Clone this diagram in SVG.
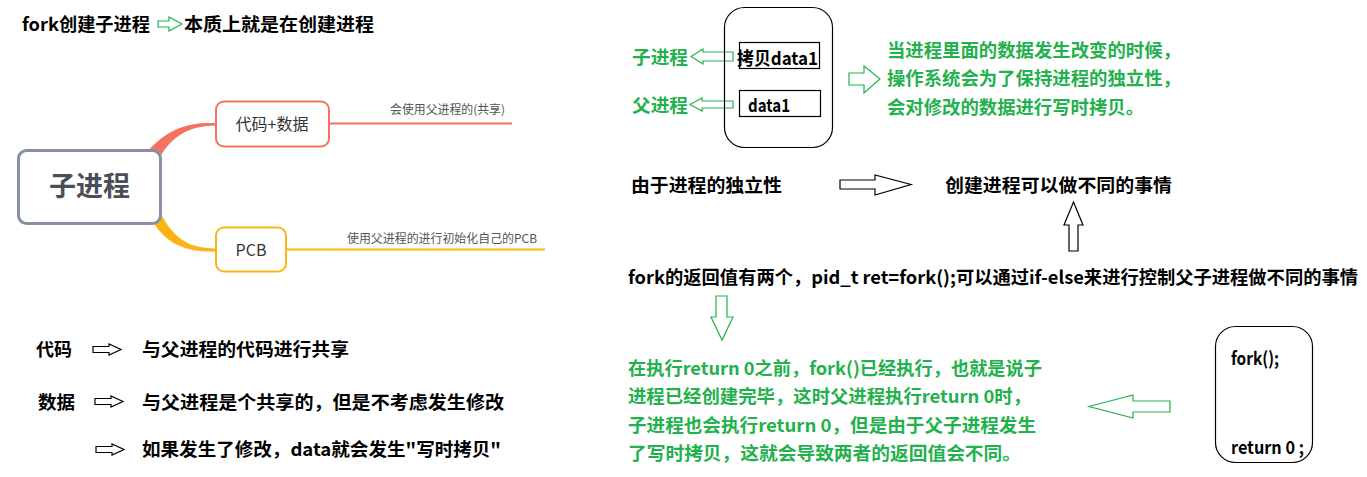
<svg xmlns="http://www.w3.org/2000/svg" width="1367" height="477" viewBox="0 0 1367 477">
<style>
.t{font-family:"Noto Sans CJK SC","Liberation Sans",sans-serif;font-weight:bold;font-size:18px;fill:#000}
.g{fill:#22b14c}
.ga{fill:#fff;stroke:#22b14c;stroke-width:1.2}
.ba{fill:#fff;stroke:#000;stroke-width:1.2}
.box{fill:none;stroke:#000;stroke-width:1.2}
.mm{font-family:"Noto Sans CJK SC","Noto Sans",sans-serif;font-size:16px;fill:#333}
.lab{font-family:"Noto Sans CJK SC","Noto Sans",sans-serif;font-size:12px;fill:#555}
</style>
<rect width="1367" height="477" fill="#fff"/>

<g id="connectors">
  <path d="M146 153 C168 128 188 122 216 123 L216 125.5 C190 126 172 134 157 162 Z" fill="#f4725f"/>
  <path d="M148 213 C165 248 190 252 216 251.5 L216 248.5 C192 248 175 242 160 212 Z" fill="#fbb415"/>
  <line x1="329" y1="123.5" x2="512" y2="123.5" stroke="#f4725f" stroke-width="2"/>
  <line x1="286" y1="249.5" x2="545" y2="249.5" stroke="#fbb415" stroke-width="2"/>
  <polygon class="ga" points="158,21 169,21 169,17 182,24 169,31 169,27 158,27"/>
  <polygon class="ga" points="691,56.5 703,49 703,52 733,52 733,61 703,61 703,64"/>
  <polygon class="ga" points="690,104.5 702,98 702,101 733,101 733,108 702,108 702,111"/>
  <polygon class="ga" points="849,73 864,73 864,66 880,79 864,93 864,85 849,85"/>
  <polygon class="ba" points="840,180 875,180 875,175 911,184.5 875,195 875,189 840,189"/>
  <polygon class="ba" points="1073.5,202 1083,225 1078,225 1078,251 1069,251 1069,225 1064,225"/>
  <polygon class="ga" points="716,296 727,296 727,317 733,317 722,340 711,317 716,317"/>
  <polygon class="ga" points="1089,406.5 1133,395 1133,401 1170,401 1170,412 1133,412 1133,418"/>
  <polygon class="ba" points="93,346.5 109,346.5 109,344 121,349.5 109,355 109,352.5 93,352.5"/>
  <polygon class="ba" points="95,398.5 111,398.5 111,396 123,401.5 111,407 111,404.5 95,404.5"/>
  <polygon class="ba" points="96,446.5 112,446.5 112,444 124,449.5 112,455 112,452.5 96,452.5"/>
</g>

<g id="title">
  <text class="t" x="22" y="31" textLength="128" lengthAdjust="spacingAndGlyphs">fork创建子进程</text>
  <text class="t" x="184" y="31" textLength="190" lengthAdjust="spacingAndGlyphs">本质上就是在创建进程</text>
</g>

<g id="node-root">
  <rect x="18.5" y="150.5" width="142" height="73" rx="8" fill="#fff" stroke="#8790a3" stroke-width="3"/>
  <text x="89.5" y="196" text-anchor="middle" style="font-family:'Noto Sans CJK SC',sans-serif;font-weight:bold;font-size:27px;fill:#4a4f57">子进程</text>
</g>
<g id="node-code-data">
  <rect x="216" y="101.5" width="113" height="45" rx="8" fill="#fff" stroke="#f4725f" stroke-width="2"/>
  <text class="mm" x="272" y="130" text-anchor="middle">代码+数据</text>
  <text class="lab" x="390" y="113.5" textLength="115" lengthAdjust="spacingAndGlyphs">会使用父进程的(共享)</text>
</g>
<g id="node-pcb">
  <rect x="216" y="227.5" width="70" height="44" rx="8" fill="#fff" stroke="#fbb415" stroke-width="2"/>
  <text class="mm" x="251" y="255.5" text-anchor="middle">PCB</text>
  <text class="lab" x="347" y="242.5" textLength="190" lengthAdjust="spacingAndGlyphs">使用父进程的进行初始化自己的PCB</text>
</g>

<g id="notes-left">
  <text class="t" x="36" y="355.5" textLength="36" lengthAdjust="spacingAndGlyphs">代码</text>
  <text class="t" x="142" y="355.5" textLength="207" lengthAdjust="spacingAndGlyphs">与父进程的代码进行共享</text>
  <text class="t" x="38" y="408.5" textLength="37" lengthAdjust="spacingAndGlyphs">数据</text>
  <text class="t" x="142" y="408.5" textLength="362" lengthAdjust="spacingAndGlyphs">与父进程是个共享的，但是不考虑发生修改</text>
  <text class="t" x="142" y="456" textLength="359" lengthAdjust="spacingAndGlyphs">如果发生了修改，data就会发生"写时拷贝"</text>
</g>

<g id="node-memory">
  <rect class="box" x="724.5" y="7.5" width="108" height="140" rx="20"/>
  <rect class="box" x="739.5" y="42.5" width="80" height="26"/>
  <rect class="box" x="739.5" y="90.5" width="81" height="26"/>
  <text class="t" x="737" y="65" textLength="81" lengthAdjust="spacingAndGlyphs">拷贝data1</text>
  <text class="t" x="748" y="112" textLength="42" lengthAdjust="spacingAndGlyphs">data1</text>
  <text class="t g" x="632" y="63.5" textLength="56" lengthAdjust="spacingAndGlyphs">子进程</text>
  <text class="t g" x="632" y="112" textLength="56" lengthAdjust="spacingAndGlyphs">父进程</text>
</g>

<g id="note-cow">
  <text class="t g" x="887" y="56.5" textLength="294" lengthAdjust="spacingAndGlyphs">当进程里面的数据发生改变的时候，</text>
  <text class="t g" x="887" y="84.5" textLength="294" lengthAdjust="spacingAndGlyphs">操作系统会为了保持进程的独立性，</text>
  <text class="t g" x="887" y="113.5" textLength="257" lengthAdjust="spacingAndGlyphs">会对修改的数据进行写时拷贝。</text>
</g>

<g id="note-independence">
  <text class="t" x="631" y="191.5" textLength="151" lengthAdjust="spacingAndGlyphs">由于进程的独立性</text>
  <text class="t" x="945" y="191.5" textLength="227" lengthAdjust="spacingAndGlyphs">创建进程可以做不同的事情</text>
</g>

<g id="note-fork-return">
  <text class="t" x="628" y="283.5" textLength="730" lengthAdjust="spacingAndGlyphs">fork的返回值有两个，pid_t ret=fork();可以通过if-else来进行控制父子进程做不同的事情</text>
</g>

<g id="note-explain">
  <text class="t g" x="628" y="374.5" textLength="414" lengthAdjust="spacingAndGlyphs">在执行return 0之前，fork()已经执行，也就是说子</text>
  <text class="t g" x="628" y="403" textLength="403" lengthAdjust="spacingAndGlyphs">进程已经创建完毕，这时父进程执行return 0时，</text>
  <text class="t g" x="628" y="431.5" textLength="408" lengthAdjust="spacingAndGlyphs">子进程也会执行return 0，但是由于父子进程发生</text>
  <text class="t g" x="628" y="460" textLength="393" lengthAdjust="spacingAndGlyphs">了写时拷贝，这就会导致两者的返回值会不同。</text>
</g>

<g id="node-code">
  <rect class="box" x="1215.5" y="326.5" width="97" height="136" rx="20"/>
  <text class="t" x="1231" y="364.5" textLength="48" lengthAdjust="spacingAndGlyphs">fork();</text>
  <text class="t" x="1231" y="454" textLength="73" lengthAdjust="spacingAndGlyphs">return 0 ;</text>
</g>
</svg>
